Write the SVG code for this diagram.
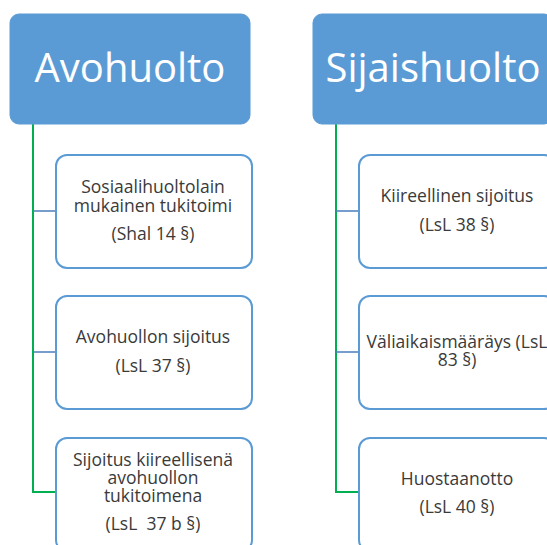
<svg xmlns="http://www.w3.org/2000/svg" width="547" height="545" viewBox="0 0 547 545">
<style>
.head{fill:#5B9BD5;stroke:#5B9BD5;stroke-width:1}
.child{fill:#fff;stroke:#5B9BD5;stroke-width:2}
.ht{font-family:"Open Sans",sans-serif;font-size:40px;fill:#fff;text-anchor:middle}
.ct{font-family:"Open Sans",sans-serif;font-size:17.5px;fill:#3a3a3a;text-anchor:middle}
.g{fill:none;stroke:#00B050;stroke-width:2}
.b{fill:none;stroke:#4A7EBB;stroke-width:1.5}
</style>
<g id="connectors">
<path class="g" d="M33 124V492H56"/>
<path class="b" d="M33 211H56M33 352H56"/>
<path class="g" d="M336 124V492H359"/>
<path class="b" d="M336 211H359M336 352H359"/>
</g>
<g id="avohuolto">
<rect class="head" x="10" y="14" width="240" height="110" rx="9"/>
<text class="ht" x="130" y="82">Avohuolto</text>
</g>
<g id="sijaishuolto">
<rect class="head" x="313" y="14" width="240" height="110" rx="9"/>
<text class="ht" x="433" y="82">Sijaishuolto</text>
</g>
<g id="sosiaalihuolto">
<rect class="child" x="56" y="155" width="196" height="113" rx="11"/>
<text class="ct" x="153" y="193">Sosiaalihuoltolain</text>
<text class="ct" x="153" y="211.5">mukainen tukitoimi</text>
<text class="ct" x="153" y="240">(Shal 14 §)</text>
</g>
<g id="avohuollon-sijoitus">
<rect class="child" x="56" y="296" width="196" height="113" rx="11"/>
<text class="ct" x="153" y="343">Avohuollon sijoitus</text>
<text class="ct" x="153" y="371.5">(LsL 37 §)</text>
</g>
<g id="sijoitus-kiireellisena">
<rect class="child" x="56" y="438" width="196" height="113" rx="11"/>
<text class="ct" x="153" y="466">Sijoitus kiireellisenä</text>
<text class="ct" x="153" y="484">avohuollon</text>
<text class="ct" x="153" y="502">tukitoimena</text>
<text class="ct" x="153" y="530" xml:space="preserve">(LsL  37 b §)</text>
</g>
<g id="kiireellinen-sijoitus">
<rect class="child" x="359" y="155" width="196" height="113" rx="11"/>
<text class="ct" x="457" y="202">Kiireellinen sijoitus</text>
<text class="ct" x="457" y="230.5">(LsL 38 §)</text>
</g>
<g id="valiaikaismaarays">
<rect class="child" x="359" y="296" width="196" height="113" rx="11"/>
<text class="ct" x="457" y="348">Väliaikaismääräys (LsL</text>
<text class="ct" x="457" y="366">83 §)</text>
</g>
<g id="huostaanotto">
<rect class="child" x="359" y="438" width="196" height="113" rx="11"/>
<text class="ct" x="457" y="485">Huostaanotto</text>
<text class="ct" x="457" y="513">(LsL 40 §)</text>
</g>
</svg>
